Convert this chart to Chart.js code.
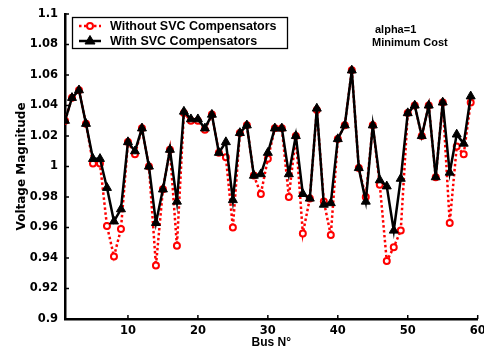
<!DOCTYPE html>
<html>
<head>
<meta charset="utf-8">
<script src="https://cdn.jsdelivr.net/npm/chart.js@4/dist/chart.umd.min.js"></script>
<style>
  html, body { margin: 0; padding: 0; background: #fff; }
  #wrap { width: 484px; height: 351px; position: relative; }
</style>
</head>
<body>
<div id="wrap"><canvas id="c"></canvas></div>
<script>
// ---- data ----
const buses = [1,2,3,4,5,6,7,8,9,10,11,12,13,14,15,16,17,18,19,20,
  21,22,23,24,25,26,27,28,29,30,31,32,33,34,35,36,37,38,39,40,
  41,42,43,44,45,46,47,48,49,50,51,52,53,54,55,56,57,58,59];

const withSVC = [1.030,1.045,1.050,1.028,1.005,1.005,0.986,0.964,0.972,1.016,
  1.010,1.025,1.000,0.963,0.985,1.011,0.977,1.036,1.031,1.031,
  1.025,1.034,1.009,1.016,0.978,1.022,1.027,0.994,0.995,1.009,
  1.025,1.025,0.995,1.020,0.982,0.979,1.038,0.975,0.976,1.018,
  1.027,1.063,0.999,0.977,1.027,0.991,0.987,0.958,0.992,1.035,
  1.040,1.020,1.040,0.993,1.042,0.996,1.021,1.015,1.046];

const withoutSVC = [1.030,1.045,1.050,1.028,1.002,1.002,0.961,0.941,0.959,1.016,
  1.008,1.025,1.000,0.935,0.985,1.011,0.948,1.035,1.030,1.030,
  1.024,1.034,1.009,1.006,0.960,1.022,1.027,0.994,0.982,1.005,
  1.025,1.025,0.980,1.020,0.956,0.979,1.037,0.977,0.955,1.018,
  1.027,1.063,0.999,0.980,1.027,0.988,0.938,0.947,0.958,1.035,
  1.040,1.020,1.040,0.993,1.042,0.963,1.013,1.008,1.042];

const xTicks = [10,20,30,40,50,60];
const yTicks = [0.9,0.92,0.94,0.96,0.98,1,1.02,1.04,1.06,1.08,1.1];

const seriesNames = ['Without SVC Compensators','With SVC Compensators'];
const noteLines = ['alpha=1','Minimum Cost'];

// ---- chart ----
const FONT = '"Liberation Sans", Arial, Helvetica, sans-serif';
const TICKFONT = '"DejaVu Sans", "Liberation Sans", sans-serif';

const toPts = arr => arr.map((v,i) => ({x: buses[i], y: v}));

const inwardTicks = {
  id: 'inwardTicks',
  afterDraw(chart) {
    const {ctx, chartArea: a, scales: {x, y}} = chart;
    ctx.save();
    ctx.strokeStyle = '#000';
    ctx.lineWidth = 1.5;
    ctx.beginPath();
    x.ticks.forEach(t => { const px = x.getPixelForValue(t.value); ctx.moveTo(px, a.bottom); ctx.lineTo(px, a.bottom - 4); });
    y.ticks.forEach(t => { const py = y.getPixelForValue(t.value); ctx.moveTo(a.left, py); ctx.lineTo(a.left + 4, py); });
    ctx.stroke();
    ctx.restore();
  }
};

const legendAndNotes = {
  id: 'legendAndNotes',
  afterDraw(chart) {
    const ctx = chart.ctx;
    ctx.save();
    // legend box
    ctx.fillStyle = '#fff';
    ctx.fillRect(72, 17, 215, 32);
    ctx.strokeStyle = '#000';
    ctx.lineWidth = 1.3;
    ctx.strokeRect(72.5, 17.5, 215, 31);
    // row 1: red dotted + circle
    const y1 = 26, y2 = 41;
    ctx.strokeStyle = '#ff0000';
    ctx.lineWidth = 2.5;
    ctx.setLineDash([2.5, 2.5]);
    ctx.beginPath(); ctx.moveTo(79, y1); ctx.lineTo(101, y1); ctx.stroke();
    ctx.setLineDash([]);
    ctx.lineWidth = 2;
    ctx.fillStyle = '#fff';
    ctx.beginPath(); ctx.arc(90, y1, 3, 0, Math.PI * 2); ctx.fill(); ctx.stroke();
    // row 2: black line + triangle
    ctx.strokeStyle = '#000';
    ctx.lineWidth = 2.5;
    ctx.beginPath(); ctx.moveTo(79, y2); ctx.lineTo(101, y2); ctx.stroke();
    ctx.fillStyle = '#000';
    ctx.beginPath(); ctx.moveTo(90, y2 - 5.5); ctx.lineTo(95, y2 + 3); ctx.lineTo(85, y2 + 3); ctx.closePath(); ctx.fill();
    ctx.lineWidth = 1; ctx.stroke();
    // texts
    ctx.fillStyle = '#000';
    ctx.font = 'bold 12.5px ' + FONT;
    ctx.textAlign = 'left';
    ctx.textBaseline = 'middle';
    ctx.fillText(seriesNames[0], 110, y1 + 0.5);
    ctx.fillText(seriesNames[1], 110, y2 + 0.5);
    // notes
    ctx.font = 'bold 11px ' + FONT;
    ctx.fillText(noteLines[0], 375, 29.5);
    ctx.fillText(noteLines[1], 372, 43);
    ctx.restore();
  }
};

new Chart(document.getElementById('c'), {
  type: 'line',
  data: {
    datasets: [
      {
        label: seriesNames[0],
        data: toPts(withoutSVC),
        borderColor: '#ff0000',
        borderWidth: 2.5,
        borderDash: [2.5, 2.5],
        pointStyle: 'circle',
        pointRadius: 3,
        pointBorderWidth: 2,
        pointBorderColor: '#ff0000',
        pointBackgroundColor: '#ffffff',
        tension: 0,
        order: 2
      },
      {
        label: seriesNames[1],
        data: toPts(withSVC),
        borderColor: '#000000',
        borderWidth: 2.5,
        pointStyle: 'triangle',
        pointRadius: 5.2,
        pointBorderWidth: 1,
        pointBorderColor: '#000000',
        pointBackgroundColor: '#000000',
        tension: 0,
        order: 1
      }
    ]
  },
  options: {
    responsive: true,
    maintainAspectRatio: false,
    animation: false,
    events: [],
    layout: { padding: { top: 13, right: 0, bottom: 0, left: 0 } },
    plugins: { legend: { display: false }, tooltip: { enabled: false } },
    scales: {
      x: {
        type: 'linear',
        min: 1, max: 60,
        afterBuildTicks: s => { s.ticks = xTicks.map(v => ({ value: v })); },
        afterFit: s => { s.height = 32; s.paddingRight = 6.3; },
        grid: { display: false, drawTicks: false },
        border: { display: true, color: '#000', width: 2.5 },
        ticks: { color: '#000', font: { family: TICKFONT, size: 11.5, weight: 'bold' }, padding: 5, maxRotation: 0 },
        title: { display: true, text: 'Bus N°', color: '#000', font: { family: FONT, size: 12, weight: 'bold' }, padding: { top: 0, bottom: 1 } }
      },
      y: {
        min: 0.9, max: 1.1,
        afterBuildTicks: s => { s.ticks = yTicks.map(v => ({ value: v })); },
        afterFit: s => { s.width = 65; },
        grid: { display: false, drawTicks: false },
        border: { display: true, color: '#000', width: 2.5 },
        ticks: { color: '#000', font: { family: TICKFONT, size: 11.5, weight: 'bold' }, padding: 7,
          callback: v => String(Number(v.toFixed(2))) },
        title: { display: true, text: 'Voltage Magnitude', color: '#000', font: { family: TICKFONT, size: 12, weight: 'bold' }, padding: { top: 15, bottom: 0 } }
      }
    }
  },
  plugins: [inwardTicks, legendAndNotes]
});
</script>
</body>
</html>
